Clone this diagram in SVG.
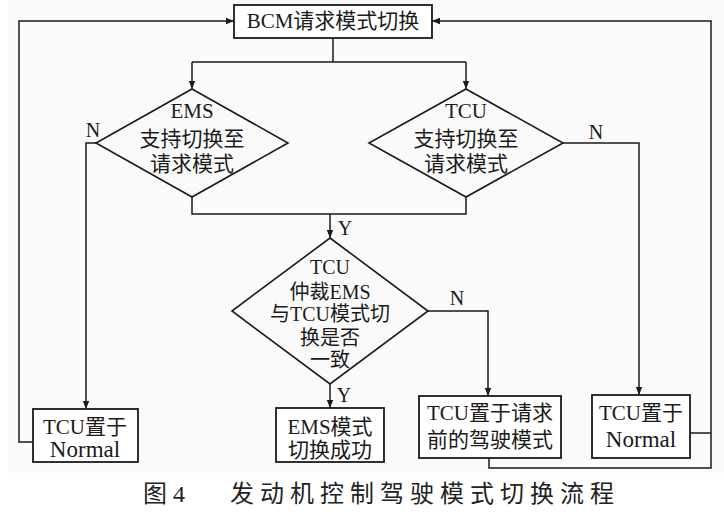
<svg xmlns="http://www.w3.org/2000/svg" width="724" height="515" viewBox="0 0 724 515">
<style>
.bg{fill:#fafafa}
.box{fill:#ffffff;stroke:#1a1a1a;stroke-width:1.8}
.dia{fill:none;stroke:#1a1a1a;stroke-width:1.6}
.ln{fill:none;stroke:#1a1a1a;stroke-width:1.5}
.t{font-family:"Liberation Serif","Noto Sans CJK SC",serif;font-size:21px;fill:#1a1a1a;text-anchor:middle}
.s{font-size:20px}
.big{font-size:23px}
.cap{font-family:"Liberation Serif","Noto Sans CJK SC",serif;font-size:24px;fill:#222;letter-spacing:6px}
</style>
<defs>
<marker id="ar" viewBox="0 0 10 10" refX="10" refY="5" markerWidth="8" markerHeight="8" markerUnits="userSpaceOnUse" orient="auto">
<path d="M0,1 L10,5 L0,9 Z" fill="#1a1a1a"/>
</marker>
</defs>
<rect width="724" height="515" fill="#ffffff"/>
<rect class="bg" x="8" y="0" width="716" height="473"/>
<g id="connectors">
<path class="ln" d="M333,38 V62 M192,62 H466"/>
<path class="ln" d="M192,62 V89" marker-end="url(#ar)"/>
<path class="ln" d="M466,62 V89" marker-end="url(#ar)"/>
<path class="ln" d="M96,143 H86 V409" marker-end="url(#ar)"/>
<path class="ln" d="M192,197 V214 H466 V197"/>
<path class="ln" d="M330,214 V238" marker-end="url(#ar)"/>
<path class="ln" d="M563,143 H639 V395" marker-end="url(#ar)"/>
<path class="ln" d="M428,311 H488 V396" marker-end="url(#ar)"/>
<path class="ln" d="M330,384 V408" marker-end="url(#ar)"/>
<path class="ln" d="M33,442 H19 V21 H234" marker-end="url(#ar)"/>
<path class="ln" d="M690,433 H711"/>
<path class="ln" d="M489,458 V468 H711 V21 H432" marker-end="url(#ar)"/>
<text class="t s" x="93" y="137">N</text>
<text class="t s" x="596" y="139">N</text>
<text class="t s" x="345" y="235">Y</text>
<text class="t s" x="457" y="305">N</text>
<text class="t s" x="344" y="402">Y</text>
</g>
<g id="bcm">
<rect class="box" x="234" y="5" width="198" height="33"/>
<text class="t" x="333" y="28">BCM请求模式切换</text>
</g>
<g id="ems-check">
<path class="dia" d="M192,89 L288,143 L192,197 L96,143 Z"/>
<text class="t" x="192" y="118">EMS</text>
<text class="t" x="192" y="146">支持切换至</text>
<text class="t" x="192" y="171">请求模式</text>
</g>
<g id="tcu-check">
<path class="dia" d="M466,89 L563,143 L466,197 L369,143 Z"/>
<text class="t" x="466" y="118">TCU</text>
<text class="t" x="466" y="146">支持切换至</text>
<text class="t" x="466" y="171">请求模式</text>
</g>
<g id="arbitration">
<path class="dia" d="M330,238 L428,311 L330,384 L232,311 Z"/>
<text class="t s" x="330" y="274">TCU</text>
<text class="t s" x="330" y="299">仲裁EMS</text>
<text class="t s" x="330" y="321">与TCU模式切</text>
<text class="t s" x="330" y="345">换是否</text>
<text class="t s" x="330" y="367">一致</text>
</g>
<g id="tcu-normal-left">
<rect class="box" x="33" y="409" width="105" height="53"/>
<text class="t" x="85" y="434">TCU置于</text>
<text class="t big" x="85" y="457">Normal</text>
</g>
<g id="ems-success">
<rect class="box" x="276" y="408" width="108" height="54"/>
<text class="t" x="330" y="434">EMS模式</text>
<text class="t" x="330" y="457">切换成功</text>
</g>
<g id="tcu-previous">
<rect class="box" x="419" y="396" width="142" height="62"/>
<text class="t" x="490" y="420">TCU置于请求</text>
<text class="t" x="490" y="447">前的驾驶模式</text>
</g>
<g id="tcu-normal-right">
<rect class="box" x="592" y="395" width="98" height="63"/>
<text class="t" x="641" y="420">TCU置于</text>
<text class="t big" x="641" y="447">Normal</text>
</g>
<g id="caption">
<text class="cap" x="143" y="502">图4</text>
<text class="cap" x="230" y="502">发动机控制驾驶模式切换流程</text>
</g>
</svg>
